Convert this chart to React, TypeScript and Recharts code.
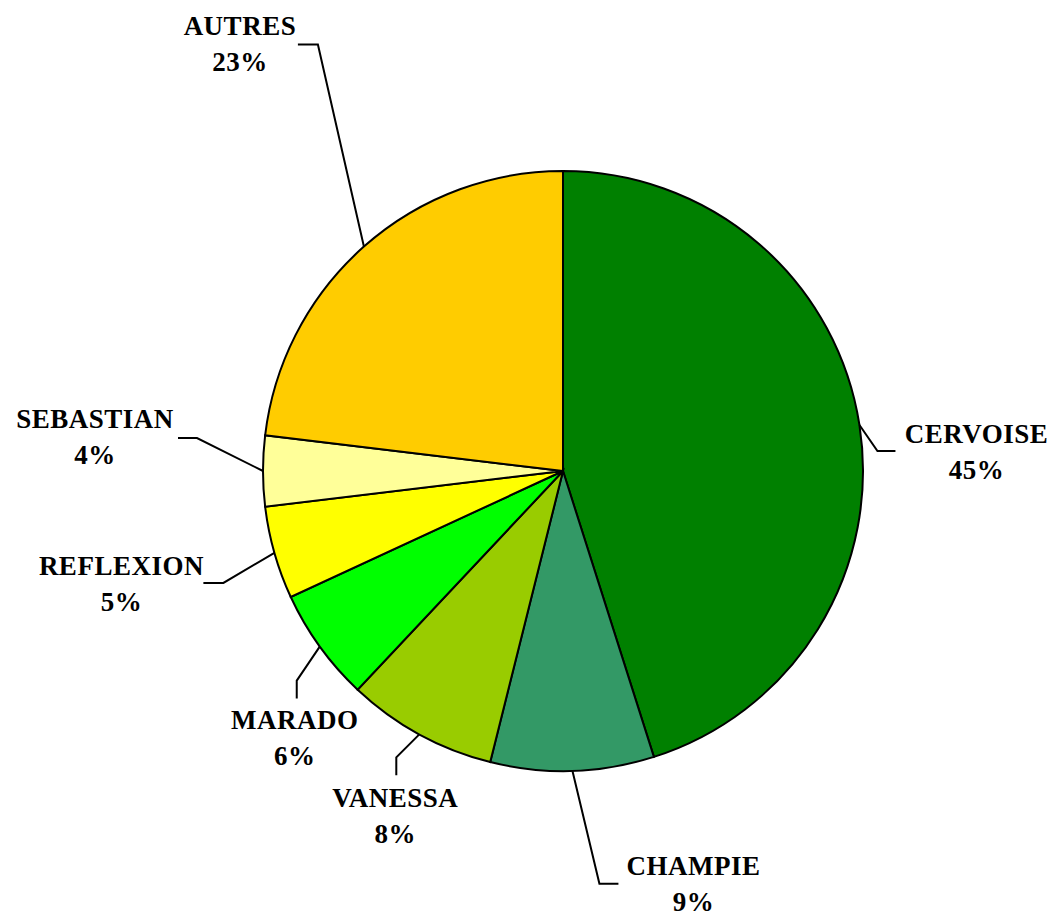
import { PieChart, Pie, Cell } from 'recharts';

const names = ['CERVOISE', 'CHAMPIE', 'VANESSA', 'MARADO', 'REFLEXION', 'SEBASTIAN', 'AUTRES'];
const shares = [45.1, 8.8, 8.1, 6.1, 5.0, 3.8, 23.1];
const colors = ['#008000', '#339966', '#99CC00', '#00FF00', '#FFFF00', '#FFFF99', '#FFCC00'];

// leader line layout per label: elbow offset from pie edge, tail from elbow, text offset from tail end
const elbow = [[18, 26], [27, 113], [-23, 23], [-23, 34], [-51, 30], [-66, -33], [-46, -202]];
const tail = [[18, 0], [19, 0], [0, 18], [0, 18], [-20, 0], [-19, 0], [-20, 0]];
const textOff = [[81, -8], [75, -9], [-1, 32], [-2, 30], [-82, -8], [-83, -10], [-58, -10]];

const data = names.map((name, i) => ({ name, value: shares[i] }));

const RAD = Math.PI / 180;
const labelStyle = {
  fontFamily: '"Liberation Serif", "Times New Roman", serif',
  fontWeight: 'bold' as const,
  fontSize: 27,
  letterSpacing: 0.5,
};

function renderLabel(props: any) {
  const { cx, cy, midAngle, outerRadius, percent, index, name } = props;
  const ex = cx + outerRadius * Math.cos(-midAngle * RAD);
  const ey = cy + outerRadius * Math.sin(-midAngle * RAD);
  const bx = ex + elbow[index][0];
  const by = ey + elbow[index][1];
  const tx = bx + tail[index][0];
  const ty = by + tail[index][1];
  const lx = tx + textOff[index][0];
  const ly = ty + textOff[index][1];
  return (
    <g key={`lbl-${index}`}>
      <polyline points={`${ex},${ey} ${bx},${by} ${tx},${ty}`} fill="none" stroke="#000" strokeWidth={2} />
      <text x={lx} y={ly} textAnchor="middle" fill="#000" style={labelStyle}>
        {name}
      </text>
      <text x={lx} y={ly + 36} textAnchor="middle" fill="#000" style={labelStyle}>
        {`${Math.round(percent * 100)}%`}
      </text>
    </g>
  );
}

export default function App() {
  return (
    <PieChart width={1041} height={908} margin={{ top: 0, right: 0, bottom: 0, left: 0 }}>
      <Pie
        data={data}
        dataKey="value"
        nameKey="name"
        cx={555}
        cy={463}
        outerRadius={300}
        startAngle={90}
        endAngle={-270}
        stroke="#000"
        strokeWidth={2}
        label={renderLabel}
        labelLine={false}
        isAnimationActive={false}
      >
        {data.map((d, i) => (
          <Cell key={d.name} fill={colors[i]} />
        ))}
      </Pie>
    </PieChart>
  );
}
